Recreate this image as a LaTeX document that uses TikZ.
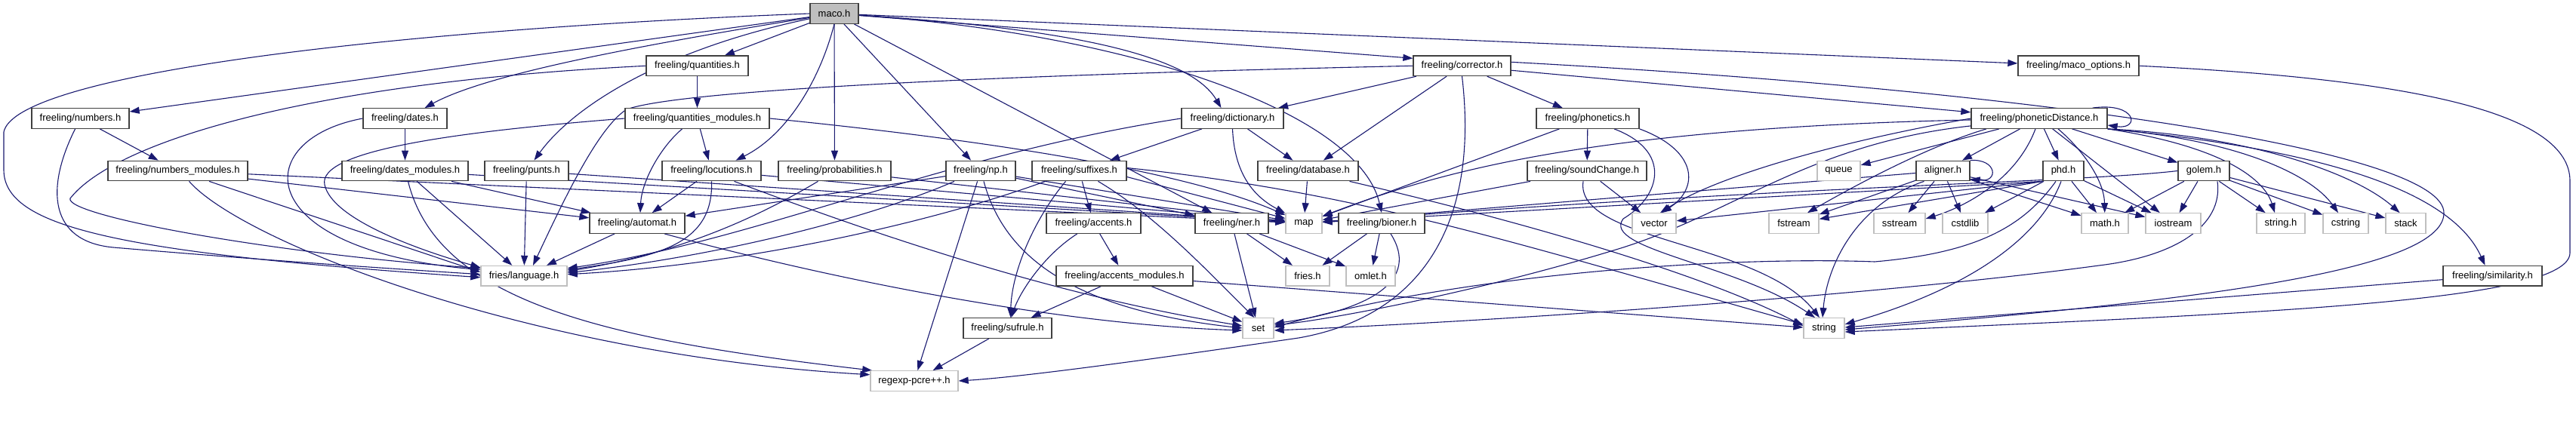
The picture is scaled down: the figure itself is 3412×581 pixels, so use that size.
\documentclass[tikz,border=0pt]{standalone}
\usepackage{fontspec}
\setmainfont{Liberation Sans}
\usetikzlibrary{arrows.meta}
\definecolor{edgeblue}{HTML}{191970}
\definecolor{extgray}{HTML}{BFBFBF}
\definecolor{boxdark}{HTML}{404040}
\pgfdeclarelayer{bg}
\pgfsetlayers{bg,main}
\begin{document}
\begin{tikzpicture}[x=1pt,y=-1pt,
  every node/.style={font=\fontsize{13}{15}\selectfont, text=black},
  pbox/.style={draw=boxdark, line width=1.3pt, fill=white, minimum height=26.5pt, inner sep=0pt},
  xbox/.style={draw=extgray, line width=1.3pt, fill=white, minimum height=26.5pt, inner sep=0pt},
  rootbox/.style={pbox, fill=extgray},
  dep/.style={draw=edgeblue, line width=1.1pt, -{Triangle[length=13pt,width=9pt]}}]
\useasboundingbox (0,0) rectangle (3412,581);
% row 0
\node[rootbox, minimum width=64pt] (maco) at (1105,18) {maco.h};
% row 1
\node[pbox, minimum width=135pt] (quant) at (923.5,87.3) {freeling/quantities.h};
\node[pbox, minimum width=129pt] (corrector) at (1936.5,87.3) {freeling/corrector.h};
\node[pbox, minimum width=160pt] (macoopt) at (2753,87.3) {freeling/maco\_options.h};
% row 2
\node[pbox, minimum width=129pt] (numbers) at (106.5,157) {freeling/numbers.h};
\node[pbox, minimum width=111pt] (dates) at (536.5,157) {freeling/dates.h};
\node[pbox, minimum width=191pt] (quantmod) at (923.5,157) {freeling/quantities\_modules.h};
\node[pbox, minimum width=135pt] (dict) at (1632.5,157) {freeling/dictionary.h};
\node[pbox, minimum width=136pt] (phonetics) at (2103,157) {freeling/phonetics.h};
\node[pbox, minimum width=180pt] (phondist) at (2701,157) {freeling/phoneticDistance.h};
% row 3
\node[pbox, minimum width=185pt] (nummod) at (235.5,226.5) {freeling/numbers\_modules.h};
\node[pbox, minimum width=167pt] (datesmod) at (536.5,226.5) {freeling/dates\_modules.h};
\node[pbox, minimum width=111pt] (punts) at (697.5,226.5) {freeling/punts.h};
\node[pbox, minimum width=131pt] (locut) at (942.5,226.5) {freeling/locutions.h};
\node[pbox, minimum width=149pt] (prob) at (1105.5,226.5) {freeling/probabilities.h};
\node[pbox, minimum width=92pt] (np) at (1299,226.5) {freeling/np.h};
\node[pbox, minimum width=125pt] (suffixes) at (1429.5,226.5) {freeling/suffixes.h};
\node[pbox, minimum width=133pt] (database) at (1732.5,226.5) {freeling/database.h};
\node[pbox, minimum width=158pt] (sound) at (2102,226.5) {freeling/soundChange.h};
\node[xbox, minimum width=57pt] (queue) at (2435.5,226.5) {queue};
\node[pbox, minimum width=71pt] (aligner) at (2573.5,226.5) {aligner.h};
\node[pbox, minimum width=54pt] (phd) at (2733,226.5) {phd.h};
\node[pbox, minimum width=68pt] (golem) at (2919,226.5) {golem.h};
% row 4
\node[pbox, minimum width=126pt] (automat) at (844,296) {freeling/automat.h};
\node[pbox, minimum width=125pt] (accents) at (1448.5,296) {freeling/accents.h};
\node[pbox, minimum width=97pt] (ner) at (1631.5,296) {freeling/ner.h};
\node[xbox, minimum width=48pt] (map) at (1727,296) {map};
\node[pbox, minimum width=114pt] (bioner) at (1830,296) {freeling/bioner.h};
\node[xbox, minimum width=58pt] (vector) at (2191,296) {vector};
\node[xbox, minimum width=66pt] (fstream) at (2376,296) {fstream};
\node[xbox, minimum width=68pt] (sstream) at (2516,296) {sstream};
\node[xbox, minimum width=60pt] (cstdlib) at (2603,296) {cstdlib};
\node[xbox, minimum width=62pt] (math) at (2788,296) {math.h};
\node[xbox, minimum width=73pt] (iostream) at (2878.5,296) {iostream};
\node[xbox, minimum width=64pt] (stringh) at (3021,296) {string.h};
\node[xbox, minimum width=60pt] (cstring) at (3107,296) {cstring};
\node[xbox, minimum width=53pt] (stack) at (3186.5,296) {stack};
% row 5
\node[xbox, minimum width=114pt] (lang) at (694,365.7) {fries/language.h};
\node[pbox, minimum width=181pt] (accmod) at (1489.5,365.7) {freeling/accents\_modules.h};
\node[xbox, minimum width=58pt] (fries) at (1732,365.7) {fries.h};
\node[xbox, minimum width=65pt] (omlet) at (1815.5,365.7) {omlet.h};
\node[pbox, minimum width=131pt] (similarity) at (3301.5,365.7) {freeling/similarity.h};
% row 6
\node[pbox, minimum width=117pt] (sufrule) at (1334.5,435) {freeling/sufrule.h};
\node[xbox, minimum width=41pt] (set) at (1666.5,435) {set};
\node[xbox, minimum width=54pt] (string) at (2416,435) {string};
% row 7
\node[xbox, minimum width=116pt] (regexp) at (1211,505) {regexp-pcre++.h};

\begin{pgfonlayer}{bg}
\fill[white] (0,0) rectangle (3412,581);
% maco.h
\draw[dep] (maco.west) .. controls (500,40) and (20,100) .. (5,175) -- (5,225) .. controls (5,300) and (150,335) .. ([yshift=-2]lang.west);
\draw[dep] (maco) -- (numbers);
\draw[dep] (maco) .. controls (880,55) and (650,95) .. ([xshift=26]dates.north);
\draw[dep] (maco) -- (quant);
\draw[dep] (maco) .. controls (880,65) and (760,140) .. ([xshift=10]punts.north);
\draw[dep] (maco.south) .. controls (1085,110) and (1040,180) .. ([xshift=32]locut.north);
\draw[dep] (maco) -- (prob);
\draw[dep] (maco) -- (np);
\draw[dep] (maco) -- (ner);
\draw[dep] (maco) .. controls (1450,40) and (1580,80) .. ([xshift=-15]dict.north);
\draw[dep] (maco) .. controls (1500,45) and (1800,150) .. (bioner.north);
\draw[dep] (maco) -- ([yshift=10]corrector.west);
\draw[dep] (maco) -- (macoopt);
% numbers
\draw[dep] (numbers) .. controls (60,250) and (65,320) .. (150,328) .. controls (350,345) and (500,355) .. ([yshift=2]lang.west);
\draw[dep] (numbers) -- (nummod);
% numbers_modules
\draw[dep] (nummod) -- (map);
\draw[dep] (nummod) -- (automat);
\draw[dep] (nummod) -- ([yshift=5]lang.west);
\draw[dep] ([xshift=15]nummod.south) .. controls (320,320) and (700,470) .. (regexp.172);
% dates
\draw[dep] (dates) -- (datesmod);
\draw[dep] (dates.west) .. controls (330,185) and (330,330) .. ([yshift=8]lang.west);
% dates_modules
\draw[dep] (datesmod) -- (map);
\draw[dep] (datesmod) -- (automat);
\draw[dep] (datesmod) -- (lang);
\draw[dep] ([xshift=4]datesmod.south) .. controls (580,400) and (800,450) .. (regexp.166);
% punts
\draw[dep] (punts) -- (map);
\draw[dep] (punts) -- (lang);
% quantities
\draw[dep] (quant) -- (quantmod);
\draw[dep] (quant.west) .. controls (400,110) and (150,190) .. (93,263) .. controls (85,285) and (350,335) .. ([yshift=10]lang.west);
% quantities_modules
\draw[dep] (quantmod.east) .. controls (1400,195) and (1600,240) .. (map);
\draw[dep] (quantmod) -- (locut);
\draw[dep] ([xshift=-20]quantmod.south) .. controls (875,195) and (850,240) .. ([xshift=4]automat.north);
\draw[dep] (quantmod.west) .. controls (600,175) and (420,200) .. (430,245) .. controls (440,290) and (550,330) .. ([yshift=11]lang.west);
% locutions
\draw[dep] (locut) -- (automat);
\draw[dep] (locut.south) .. controls (945,320) and (880,340) .. ([yshift=8]lang.east);
\draw[dep] ([xshift=30]locut.south) .. controls (1250,345) and (1450,400) .. ([yshift=3]set.west);
\draw[dep] (locut) -- (map);
% probabilities
\draw[dep] (prob) -- (map);
\draw[dep] ([xshift=-22]prob.south) .. controls (1000,290) and (900,335) .. ([yshift=6]lang.east);
% np
\draw[dep] (np) -- (automat);
\draw[dep] ([xshift=-35]np.south) .. controls (1150,290) and (950,340) .. ([yshift=4]lang.east);
\draw[dep] (np) -- (regexp);
\draw[dep] ([xshift=4]np.south) .. controls (1330,340) and (1420,410) .. (set.west);
\draw[dep] (np) -- (map);
\draw[dep] (np) -- (ner);
% suffixes
\draw[dep] (suffixes) -- (accents);
\draw[dep] ([xshift=-18]suffixes.south) .. controls (1370,290) and (1340,360) .. ([xshift=4]sufrule.north);
\draw[dep] ([xshift=25]suffixes.south) .. controls (1530,285) and (1600,360) .. ([xshift=-5]set.north);
\draw[dep] ([xshift=-45]suffixes.south) .. controls (1250,290) and (1000,350) .. ([yshift=2]lang.east);
\draw[dep] ([yshift=-8]suffixes.east) -- (map);
\draw[dep] ([yshift=4]suffixes.east) .. controls (1800,255) and (2000,320) .. ([yshift=5]string.west);
% dictionary
\draw[dep] (dict) -- (suffixes);
\draw[dep] (dict) -- (database);
\draw[dep] (dict.south) .. controls (1635,230) and (1660,260) .. (map);
\draw[dep] (dict.west) .. controls (1250,205) and (1000,320) .. ([yshift=10]lang.east);
% database
\draw[dep] (database) -- (map);
\draw[dep] ([xshift=55]database.south) .. controls (2000,290) and (2250,360) .. ([yshift=3]string.west);
% ner
\draw[dep] (ner) -- (set);
\draw[dep] (ner) -- (fries);
\draw[dep] (ner) -- (omlet);
% bioner
\draw[dep] (bioner) -- (fries);
\draw[dep] (bioner) -- (omlet);
\draw[dep] ([xshift=12]bioner.south) .. controls (1880,370) and (1820,410) .. ([yshift=6]set.east);
% accents
\draw[dep] (accents) -- (accmod);
\draw[dep] (accents) .. controls (1380,340) and (1350,390) .. (sufrule);
% accents_modules
\draw[dep] (accmod) -- (sufrule);
\draw[dep] (accmod) -- (set);
\draw[dep] (accmod) -- ([yshift=1]string.west);
% sufrule
\draw[dep] (sufrule) -- (regexp);
% automat
\draw[dep] ([xshift=36]automat.south) .. controls (1100,370) and (1400,430) .. ([yshift=-3]set.west);
\draw[dep] (automat) -- (lang);
% corrector
\draw[dep] (corrector) -- (dict);
\draw[dep] (corrector) -- (database);
\draw[dep] (corrector) -- (phonetics);
\draw[dep] (corrector.west) .. controls (1300,100) and (900,120) .. (830,145) .. controls (790,170) and (740,280) .. ([xshift=12]lang.north);
\draw[dep] (corrector.south) .. controls (1960,300) and (1880,420) .. (1720,448) .. controls (1500,480) and (1350,500) .. (regexp.east);
\draw[dep] (corrector) -- (phondist);
\draw[dep] ([yshift=5]corrector.east) .. controls (2700,120) and (3240,200) .. (3237,283) .. controls (3235,360) and (2900,400) .. ([yshift=-2]string.east);
% maco_options
\draw[dep] (macoopt.east) .. controls (3200,105) and (3404,150) .. (3404,240) -- (3404,335) .. controls (3404,400) and (3000,415) .. ([yshift=-5]string.east);
% similarity
\draw[dep] ([yshift=-5]similarity.west) -- ([yshift=1]string.east);
% phonetics
\draw[dep] (phonetics) -- (sound);
\draw[dep] (phonetics) -- (map);
\draw[dep] (phonetics.south east) .. controls (2250,200) and (2250,250) .. ([xshift=10]vector.north);
\draw[dep] ([xshift=35]phonetics.south) .. controls (2215,200) and (2200,260) .. (2150,290) .. controls (2120,330) and (2300,350) .. ([xshift=-12]string.north);
% soundChange
\draw[dep] (sound) -- (map);
\draw[dep] (sound) -- (vector);
\draw[dep] ([xshift=-5]sound.south) .. controls (2085,320) and (2330,320) .. ([xshift=-6]string.north);
% phoneticDistance
\draw[dep] ([xshift=-20]phondist.north east) .. controls (2830,135) and (2835,172) .. ([yshift=-9]phondist.east);
\draw[dep] (phondist) .. controls (2100,170) and (1900,230) .. (map);
\draw[dep] (phondist.west) .. controls (2450,185) and (2280,230) .. ([xshift=8]vector.north);
\draw[dep] (phondist) -- (queue);
\draw[dep] ([xshift=-70]phondist.south) .. controls (2550,195) and (2450,250) .. ([xshift=18]fstream.north);
\draw[dep] (phondist) -- (aligner);
\draw[dep] (phondist) -- (phd);
\draw[dep] (phondist) -- (golem);
\draw[dep] ([xshift=-5]phondist.south) .. controls (2670,240) and (2600,275) .. ([yshift=6]sstream.east);
\draw[dep] ([xshift=25]phondist.south) .. controls (2760,200) and (2787,240) .. (math);
\draw[dep] (phondist) -- (iostream);
\draw[dep] (phondist.south east) .. controls (2950,195) and (3000,240) .. ([xshift=-8]stringh.north);
\draw[dep] (phondist.south east) .. controls (2960,185) and (3060,230) .. ([xshift=-10]cstring.north);
\draw[dep] (phondist.south east) .. controls (2980,180) and (3120,230) .. ([xshift=-8]stack.north);
\draw[dep] (phondist.south east) .. controls (3100,200) and (3250,260) .. ([xshift=-10]similarity.north);
\draw[dep] (phondist) .. controls (2400,190) and (2300,280) .. (2150,328) .. controls (1950,390) and (1750,425) .. ([yshift=4]set.east);
% aligner
\draw[dep] (aligner.north east) .. controls (2645,210) and (2648,242) .. ([yshift=3]aligner.south east);
\draw[dep] (aligner) -- (sstream);
\draw[dep] (aligner) -- (cstdlib);
\draw[dep] (aligner) -- (math);
\draw[dep] (aligner) -- (iostream);
\draw[dep] (aligner) -- (fstream);
\draw[dep] (aligner) -- (map);
\draw[dep] ([xshift=-25]aligner.south) .. controls (2460,270) and (2420,350) .. ([xshift=-2]string.north);
% phd
\draw[dep] (phd) -- (math);
\draw[dep] (phd) -- (iostream);
\draw[dep] (phd) -- (cstdlib);
\draw[dep] (phd.south west) -- (map);
\draw[dep] (phd.south west) -- (fstream);
\draw[dep] (phd.south west) -- (vector);
\draw[dep] ([xshift=-10]phd.south) .. controls (2680,300) and (2620,335) .. (2483,347) .. controls (2300,340) and (1950,360) .. ([yshift=1]set.east);
\draw[dep] ([xshift=-3]phd.south) .. controls (2700,320) and (2600,385) .. ([yshift=5]string.east);
% golem
\draw[dep] (golem.west) .. controls (2750,242) and (2400,245) .. (map);
\draw[dep] (golem) -- (math);
\draw[dep] (golem) -- (iostream);
\draw[dep] (golem) -- (stringh);
\draw[dep] (golem) -- (cstring);
\draw[dep] (golem) -- (stack);
\draw[dep] ([xshift=18]golem.south) .. controls (2945,300) and (2880,340) .. (2780,352) .. controls (2500,390) and (2000,425) .. ([yshift=-3]set.east);
\end{pgfonlayer}
\end{tikzpicture}
\end{document}
